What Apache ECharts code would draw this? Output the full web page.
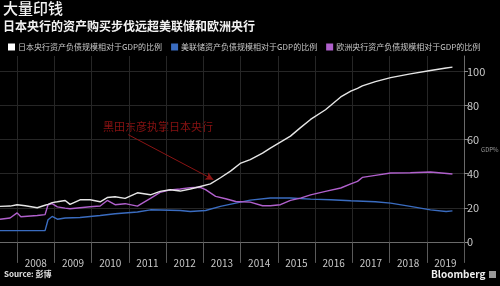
<!DOCTYPE html>
<html>
<head>
<meta charset="utf-8">
<script src="https://cdn.jsdelivr.net/npm/echarts@6/dist/echarts.min.js"></script>
<style>
html,body{margin:0;padding:0;background:#000;}
#c{width:500px;height:286px;}
</style>
</head>
<body>
<div id="c"></div>
<script>
// ---- data (decimal years, % of GDP) ----
const bojYears = [2007.54,2007.81,2008.0,2008.22,2008.54,2008.75,2008.83,2008.94,2009.08,2009.29,2009.42,2009.69,2009.96,2010.23,2010.42,2010.63,2010.90,2011.23,2011.58,2011.84,2012.11,2012.38,2012.65,2012.92,2013.19,2013.46,2013.73,2013.99,2014.26,2014.59,2014.80,2015.07,2015.34,2015.61,2015.88,2016.28,2016.69,2016.96,2017.14,2017.27,2017.62,2018.03,2018.56,2019.10,2019.52,2019.69];
const bojValues = [20.8,21.0,21.8,21.2,20.0,21.5,22.0,23.0,23.5,24.3,22.0,24.7,24.7,23.5,26.0,26.5,25.5,28.8,27.6,29.6,30.6,29.8,31.0,32.5,34.0,37.6,41.5,46.0,48.2,52.0,55.0,58.5,62.0,67.0,71.8,77.5,85.0,88.4,90.0,91.5,94.0,96.3,98.5,100.5,102.0,102.5];

const fedYears = [2007.54,2008.0,2008.5,2008.75,2008.83,2008.94,2009.08,2009.29,2009.69,2010.23,2010.63,2011.23,2011.58,2012.38,2012.65,2013.06,2013.46,2013.87,2014.26,2014.80,2015.34,2015.88,2016.42,2016.96,2017.62,2018.03,2018.56,2019.10,2019.52,2019.69];
const fedValues = [6.6,6.6,6.6,6.6,13.0,14.9,13.3,14.0,14.3,15.5,16.5,17.5,18.8,18.4,17.8,18.4,20.8,22.7,24.5,25.7,25.7,25.1,24.7,24.1,23.5,22.7,20.8,18.8,17.8,18.2];

const ecbYears = [2007.54,2007.81,2008.0,2008.1,2008.54,2008.75,2008.83,2008.94,2009.08,2009.29,2009.42,2009.69,2009.96,2010.23,2010.42,2010.63,2010.90,2011.23,2011.58,2011.84,2012.11,2012.38,2012.65,2012.92,2013.06,2013.33,2013.60,2013.87,2014.26,2014.59,2014.80,2015.07,2015.34,2015.61,2015.88,2016.28,2016.69,2016.96,2017.14,2017.27,2017.62,2018.03,2018.56,2019.10,2019.69];
const ecbValues = [13.3,14.0,17.0,14.7,15.5,16.0,21.8,22.4,20.5,19.8,19.4,20.0,20.6,21.0,24.3,21.8,22.4,21.0,25.5,29.0,30.5,31.0,31.8,32.0,30.6,26.7,25.3,23.7,23.3,21.2,21.2,21.8,24.3,25.7,27.6,29.6,31.6,34.0,35.5,37.8,39.0,40.4,40.5,41.0,39.8];

const yearTicks = [2008,2009,2010,2011,2012,2013,2014,2015,2016,2017,2018,2019,2020];
const yearLabels = [2008,2009,2010,2011,2012,2013,2014,2015,2016,2017,2018,2019];
const yTicks = [0,20,40,60,80,100];

const seriesNames = ['日本央行资产负债规模相对于GDP的比例','美联储资产负债规模相对于GDP的比例','欧洲央行资产负债规模相对于GDP的比例'];
const annotationText = '黑田东彦执掌日本央行';

function pairs(xs, ys){ return xs.map((x,i)=>[x, ys[i]]); }

const FONT = '"Noto Sans CJK SC", "Noto Sans", sans-serif';
const chart = echarts.init(document.getElementById('c'), null, {renderer:'canvas'});
chart.setOption({
  backgroundColor:'#000',
  animation:false,
  textStyle:{fontFamily:FONT},
  legend:{
    left:3, top:38, icon:'rect', itemWidth:7, itemHeight:7, itemGap:9,
    textStyle:{color:'#c8c8c8', fontSize:8, fontFamily:FONT, padding:[0,0,0,-2]},
    data:seriesNames
  },
  grid:{left:0, right:36, top:56, bottom:39, containLabel:false},
  xAxis:{
    type:'value', min:2007.54, max:2020,
    axisLine:{show:true, lineStyle:{color:'#6a6a6a', width:1}},
    axisTick:{show:true, customValues:yearTicks, length:21, lineStyle:{color:'#5a5a5a'}},
    axisLabel:{customValues:yearLabels.map(y=>y+0.5), formatter:v=>String(Math.floor(v)), color:'#c8c8c8', fontSize:10, margin:11, fontFamily:FONT},
    splitLine:{show:true, customValues:yearTicks, lineStyle:{color:'#262626', width:1}}
  },
  yAxis:{
    type:'value', position:'right', min:-3, max:109,
    axisLine:{show:true, lineStyle:{color:'#6a6a6a'}},
    axisTick:{show:true, customValues:yTicks, length:4, lineStyle:{color:'#8a8a8a'}},
    axisLabel:{customValues:yTicks, color:'#c8c8c8', fontSize:11, margin:3, fontFamily:FONT},
    splitLine:{show:true, customValues:yTicks, lineStyle:{color:'#262626'}}
  },
  series:[
    {name:seriesNames[0], type:'line', data:pairs(bojYears,bojValues), showSymbol:false, symbol:'none',
     lineStyle:{color:'#e6e6e6', width:1.4}, itemStyle:{color:'#ffffff'}, z:5,
     markLine:{silent:true, symbol:['none','arrow'], symbolSize:[6,8], label:{show:false},
       lineStyle:{color:'#8a1414', width:1, type:'solid'},
       data:[[{coord:[2010.98,62.9]},{coord:[2013.27,36.5]}]]}},
    {name:seriesNames[1], type:'line', data:pairs(fedYears,fedValues), showSymbol:false, symbol:'none',
     lineStyle:{color:'#3a6cc0', width:1.4}, itemStyle:{color:'#3a6cc0'}, z:3},
    {name:seriesNames[2], type:'line', data:pairs(ecbYears,ecbValues), showSymbol:false, symbol:'none',
     lineStyle:{color:'#b060cc', width:1.4}, itemStyle:{color:'#b060cc'}, z:4}
  ],
  graphic:[
    {type:'text', left:3, top:1, style:{text:'大量印钱', fill:'#f2f2f2', font:'500 15px '+FONT}},
    {type:'text', left:3, top:20, style:{text:'日本央行的资产购买步伐远超美联储和欧洲央行', fill:'#f2f2f2', font:'bold 12px '+FONT}},
    {type:'text', left:103, top:121, style:{text:annotationText, fill:'#8a1212', font:'11px '+FONT}},
    {type:'text', left:481, top:147, style:{text:'GDP%', fill:'#9a9a9a', font:'6px '+FONT}},
    {type:'text', left:4, top:270, style:{text:'Source: 彭博', fill:'#e0e0e0', font:'bold 8px '+FONT}},
    {type:'text', left:431, top:269, style:{text:'Bloomberg', fill:'#f0f0f0', font:'bold 10px '+FONT}},
    {type:'rect', left:489, top:271, shape:{width:7, height:7}, style:{fill:'#9a9a9a'}}
  ]
});
</script>
</body>
</html>
